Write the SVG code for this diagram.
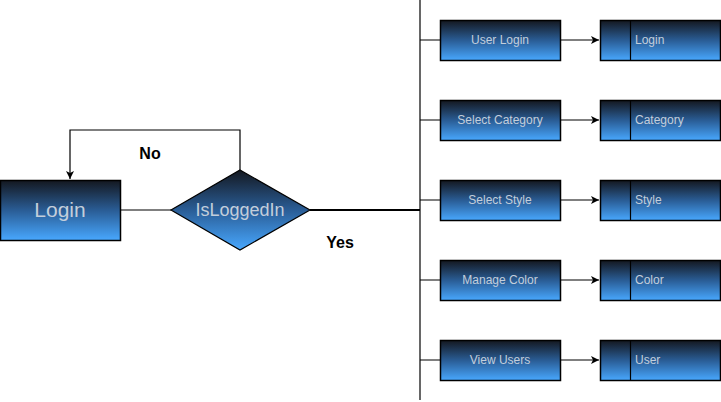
<svg xmlns="http://www.w3.org/2000/svg" width="721" height="402" viewBox="0 0 721 402">
<defs>
<linearGradient id="g" x1="0" y1="0" x2="0" y2="1">
<stop offset="0" stop-color="#141820"/>
<stop offset="0.5" stop-color="#2a5d96"/>
<stop offset="1" stop-color="#48a8ff"/>
</linearGradient>
<marker id="arr" markerWidth="10" markerHeight="10" refX="9" refY="5" orient="auto" markerUnits="userSpaceOnUse">
<path d="M1,1 L9,5 L1,9 L3,5 Z" fill="#000"/>
</marker>
<style>
.box{fill:url(#g);stroke:#000;stroke-width:1.5}
.t{font-family:"Liberation Sans",Arial,sans-serif;fill:#c3cedb;font-size:12px}
.c{fill:none;stroke:#000;stroke-width:1.2}
.lbl{font-family:"Liberation Sans",Arial,sans-serif;font-weight:bold;font-size:16px;fill:#000}
</style>
</defs>
<rect width="721" height="402" fill="#fff"/>
<g id="connectors">
<path class="c" d="M240,170 V130 H70 V179" marker-end="url(#arr)"/>
<path class="c" d="M120,210 H171"/>
<path class="c" d="M310,210 H420" style="stroke-width:2"/>
<path class="c" d="M420,0 V400"/>
<path class="c" d="M420,40 H440 M420,120 H440 M420,200 H440 M420,280 H440 M420,360 H440"/>
<path class="c" d="M560,40 H599" marker-end="url(#arr)"/>
<path class="c" d="M560,120 H599" marker-end="url(#arr)"/>
<path class="c" d="M560,200 H599" marker-end="url(#arr)"/>
<path class="c" d="M560,280 H599" marker-end="url(#arr)"/>
<path class="c" d="M560,360 H599" marker-end="url(#arr)"/>
<text class="lbl" x="150" y="159" text-anchor="middle">No</text>
<text class="lbl" x="340" y="248" text-anchor="middle">Yes</text>
</g>
<g id="login">
<rect class="box" x="0.5" y="180.5" width="120" height="60"/>
<text class="t" x="60" y="217" text-anchor="middle" style="font-size:21px">Login</text>
</g>
<g id="isloggedin">
<polygon class="box" points="240,170 310,210 240,250 171,210" style="stroke-width:1.2"/>
<text class="t" x="240" y="216" text-anchor="middle" style="font-size:18px">IsLoggedIn</text>
</g>
<g id="userlogin">
<rect class="box" x="440.5" y="20.5" width="120" height="40"/>
<text class="t" x="500" y="44" text-anchor="middle">User Login</text>
</g>
<g id="selectcategory">
<rect class="box" x="440.5" y="100.5" width="120" height="40"/>
<text class="t" x="500" y="124" text-anchor="middle">Select Category</text>
</g>
<g id="selectstyle">
<rect class="box" x="440.5" y="180.5" width="120" height="40"/>
<text class="t" x="500" y="204" text-anchor="middle">Select Style</text>
</g>
<g id="managecolor">
<rect class="box" x="440.5" y="260.5" width="120" height="40"/>
<text class="t" x="500" y="284" text-anchor="middle">Manage Color</text>
</g>
<g id="viewusers">
<rect class="box" x="440.5" y="340.5" width="120" height="40"/>
<text class="t" x="500" y="364" text-anchor="middle">View Users</text>
</g>
<g id="e-login">
<rect class="box" x="600.5" y="20.5" width="120" height="40"/>
<path class="c" d="M630.5,20.5 V60.5"/>
<text class="t" x="635" y="44">Login</text>
</g>
<g id="e-category">
<rect class="box" x="600.5" y="100.5" width="120" height="40"/>
<path class="c" d="M630.5,100.5 V140.5"/>
<text class="t" x="635" y="124">Category</text>
</g>
<g id="e-style">
<rect class="box" x="600.5" y="180.5" width="120" height="40"/>
<path class="c" d="M630.5,180.5 V220.5"/>
<text class="t" x="635" y="204">Style</text>
</g>
<g id="e-color">
<rect class="box" x="600.5" y="260.5" width="120" height="40"/>
<path class="c" d="M630.5,260.5 V300.5"/>
<text class="t" x="635" y="284">Color</text>
</g>
<g id="e-user">
<rect class="box" x="600.5" y="340.5" width="120" height="40"/>
<path class="c" d="M630.5,340.5 V380.5"/>
<text class="t" x="635" y="364">User</text>
</g>
</svg>
